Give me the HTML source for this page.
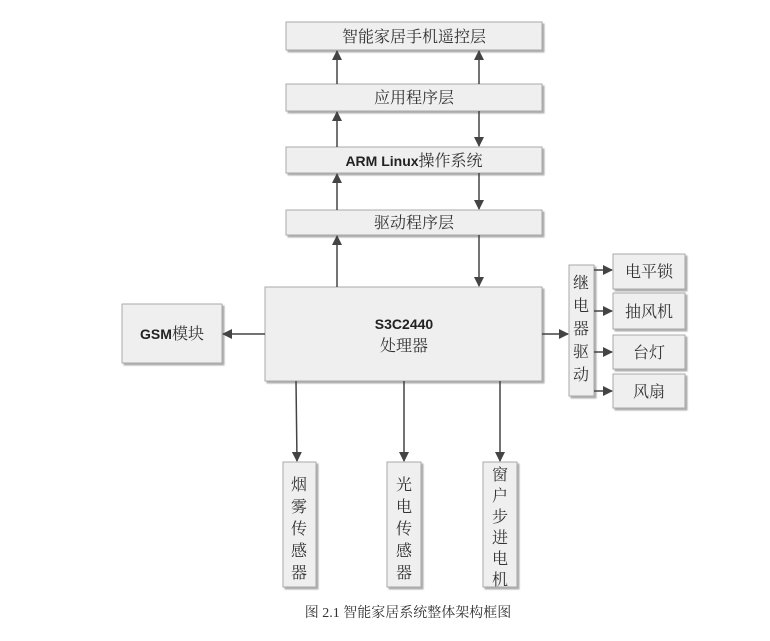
<!DOCTYPE html>
<html><head><meta charset="utf-8"><style>
html,body{margin:0;padding:0;background:#fff;}
text{font-family:"Liberation Serif","Noto Serif CJK SC","Noto Sans CJK SC",serif;fill:#333;}
.b{font-family:"Liberation Sans","Noto Sans CJK SC",sans-serif;font-weight:bold;fill:#222;}
</style></head><body>
<svg width="770" height="636" viewBox="0 0 770 636" xmlns="http://www.w3.org/2000/svg">
<defs>
<marker id="a" markerWidth="10" markerHeight="10" refX="9" refY="5" orient="auto" markerUnits="userSpaceOnUse">
<path d="M0,0 L10,5 L0,10 z" fill="#444"/></marker>
<filter id="s" x="-10%" y="-10%" width="130%" height="130%"><feDropShadow dx="2" dy="2" stdDeviation="0.8" flood-color="#999" flood-opacity="0.8"/></filter>
</defs>
<g fill="#efefef" stroke="#aaa" stroke-width="1" filter="url(#s)">
<rect x="286" y="22" width="256" height="28"/>
<rect x="286" y="84" width="256" height="27"/>
<rect x="286" y="147" width="256" height="26"/>
<rect x="286" y="210" width="256" height="25"/>
<rect x="265" y="287" width="277" height="94"/>
<rect x="122" y="304" width="100" height="59"/>
<rect x="569" y="265" width="25" height="131"/>
<rect x="613" y="254" width="72" height="35"/>
<rect x="613" y="293" width="72" height="36"/>
<rect x="613" y="335" width="72" height="34"/>
<rect x="613" y="374" width="72" height="34"/>
<rect x="283" y="462" width="33" height="125"/>
<rect x="387" y="462" width="34" height="125"/>
<rect x="483" y="462" width="34" height="125"/>
</g>
<g stroke="#444" stroke-width="1.5" fill="none" marker-end="url(#a)">
<line x1="337" y1="84" x2="337" y2="51"/>
<line x1="479" y1="84" x2="479" y2="51"/>
<line x1="337" y1="147" x2="337" y2="112"/>
<line x1="479" y1="111" x2="479" y2="146"/>
<line x1="337" y1="210" x2="337" y2="174"/>
<line x1="479" y1="173" x2="479" y2="209"/>
<line x1="337" y1="287" x2="337" y2="236"/>
<line x1="479" y1="235" x2="479" y2="286"/>
<line x1="265" y1="334" x2="223" y2="334"/>
<line x1="542" y1="334" x2="568" y2="334"/>
<line x1="296" y1="381" x2="297" y2="461"/>
<line x1="404" y1="381" x2="404" y2="461"/>
<line x1="500" y1="381" x2="500" y2="461"/>
<line x1="594" y1="270" x2="612" y2="270"/>
<line x1="594" y1="311" x2="612" y2="311"/>
<line x1="594" y1="352" x2="612" y2="352"/>
<line x1="594" y1="391" x2="612" y2="391"/>
</g>
<g font-size="16" text-anchor="middle">
<text x="414" y="42">智能家居手机遥控层</text>
<text x="414" y="103">应用程序层</text>
<text x="414" y="166"><tspan class="b" font-size="14">ARM Linux</tspan>操作系统</text>
<text x="414" y="228">驱动程序层</text>
<text x="404" y="329" class="b" font-size="14">S3C2440</text>
<text x="404" y="351">处理器</text>
<text x="172" y="339"><tspan class="b" font-size="14">GSM</tspan>模块</text>
<text x="649" y="277">电平锁</text>
<text x="649" y="317">抽风机</text>
<text x="649" y="358">台灯</text>
<text x="649" y="397">风扇</text>
</g>
<g font-size="16" text-anchor="middle">
<text x="581" y="288">继</text><text x="581" y="311">电</text><text x="581" y="334">器</text><text x="581" y="357">驱</text><text x="581" y="380">动</text>
<text x="299" y="490">烟</text><text x="299" y="512">雾</text><text x="299" y="534">传</text><text x="299" y="556">感</text><text x="299" y="578">器</text>
<text x="404" y="490">光</text><text x="404" y="512">电</text><text x="404" y="534">传</text><text x="404" y="556">感</text><text x="404" y="578">器</text>
<text x="500" y="480">窗</text><text x="500" y="501">户</text><text x="500" y="522">步</text><text x="500" y="543">进</text><text x="500" y="564">电</text><text x="500" y="585">机</text>
</g>
<text x="408" y="617" font-size="14" text-anchor="middle">图 2.1 智能家居系统整体架构框图</text>
</svg>
</body></html>
